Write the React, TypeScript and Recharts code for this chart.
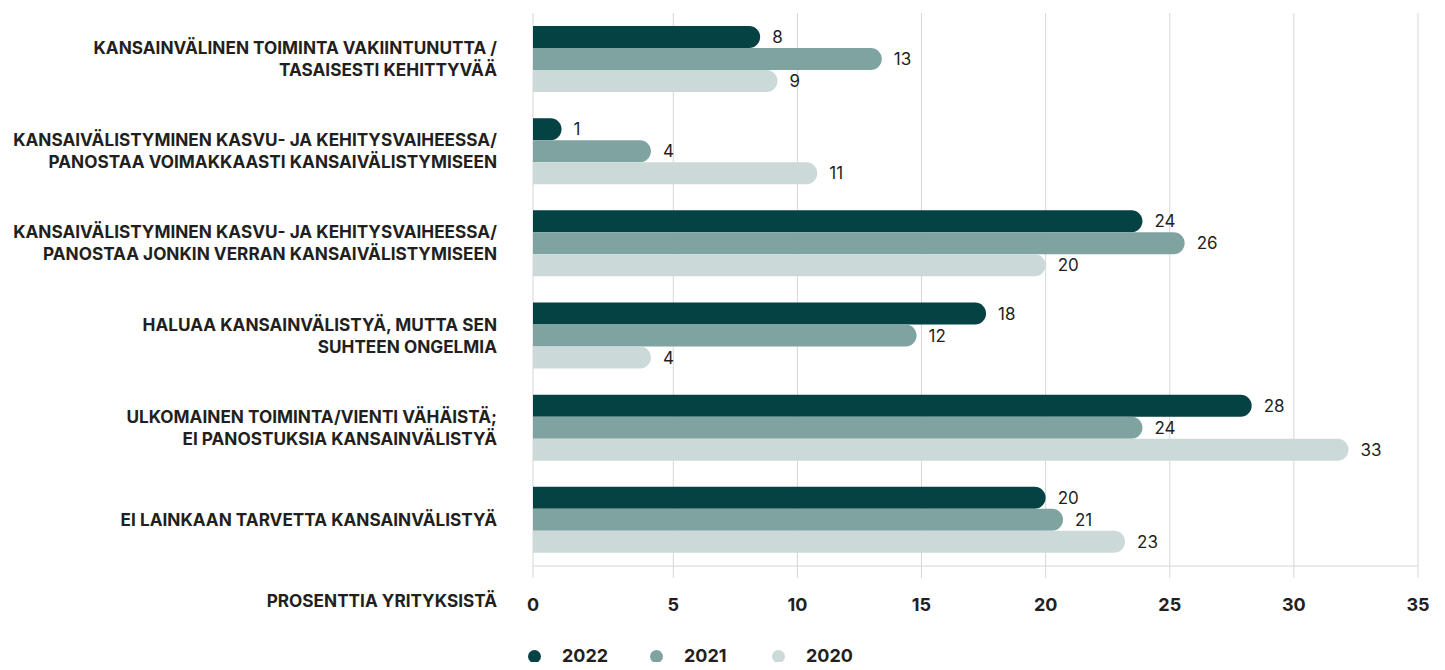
import { BarChart, Bar, XAxis, YAxis, CartesianGrid, Legend, LabelList, Label } from 'recharts'

const categories = [
  'KANSAINVÄLINEN TOIMINTA VAKIINTUNUTTA /\nTASAISESTI KEHITTYVÄÄ',
  'KANSAIVÄLISTYMINEN KASVU- JA KEHITYSVAIHEESSA/\nPANOSTAA VOIMAKKAASTI KANSAIVÄLISTYMISEEN',
  'KANSAIVÄLISTYMINEN KASVU- JA KEHITYSVAIHEESSA/\nPANOSTAA JONKIN VERRAN KANSAIVÄLISTYMISEEN',
  'HALUAA KANSAINVÄLISTYÄ, MUTTA SEN\nSUHTEEN ONGELMIA',
  'ULKOMAINEN TOIMINTA/VIENTI VÄHÄISTÄ;\nEI PANOSTUKSIA KANSAINVÄLISTYÄ',
  'EI LAINKAAN TARVETTA KANSAINVÄLISTYÄ',
]

const years = ['2022', '2021', '2020']
const colors = ['#054244', '#7fa3a1', '#cbdad9']

// bar lengths as drawn in the picture
const values2022 = [8.5, 0.5, 23.9, 17.6, 28.3, 20.0]
const values2021 = [13.4, 4.1, 25.6, 14.8, 23.9, 20.7]
const values2020 = [9.2, 10.8, 20.0, 4.1, 32.2, 23.2]

// printed numbers next to the bars
const labels2022 = [8, 1, 24, 18, 28, 20]
const labels2021 = [13, 4, 26, 12, 24, 21]
const labels2020 = [9, 11, 20, 4, 33, 23]

const xTicks = [0, 5, 10, 15, 20, 25, 30, 35]
// the axis line sits a little left of where the bars count from
const AXIS_START = -0.65

const data = categories.map((name, i) => ({
  name,
  r2022: [AXIS_START, values2022[i]],
  r2021: [AXIS_START, values2021[i]],
  r2020: [AXIS_START, values2020[i]],
  l2022: labels2022[i],
  l2021: labels2021[i],
  l2020: labels2020[i],
}))

const TEXT = '#231f20'
const GRID = '#d6d6d6'

function CategoryTick({ x, y, payload }: any) {
  const lines = String(payload.value).split('\n')
  const lh = 22
  const top = y - ((lines.length - 1) * lh) / 2
  return (
    <text x={x} y={top} textAnchor="end" fill={TEXT} fontSize={17.2} fontWeight={700}>
      {lines.map((l, i) => (
        <tspan key={i} x={x} y={top + i * lh} dy="0.35em">
          {l}
        </tspan>
      ))}
    </text>
  )
}

function YearLegend() {
  return (
    <div style={{ display: 'flex', paddingLeft: 520, paddingTop: 24, height: 36, boxSizing: 'border-box' }}>
      {years.map((y, i) => (
        <div key={y} style={{ width: 122, display: 'flex', alignItems: 'center' }}>
          <span
            style={{ width: 13, height: 13, borderRadius: '50%', background: colors[i], marginRight: 21, display: 'inline-block' }}
          />
          <span style={{ fontWeight: 700, fontSize: 18, color: TEXT, lineHeight: '20px' }}>{y}</span>
        </div>
      ))}
    </div>
  )
}

export default function App() {
  return (
    <div style={{ width: 1429, height: 654, fontFamily: 'Inter, sans-serif' }}>
      <BarChart
        width={1429}
        height={654}
        data={data}
        layout="vertical"
        margin={{ top: 5, right: 19, bottom: 0, left: 0 }}
        barGap={0}
        barSize={22}
      >
        <CartesianGrid horizontal={false} stroke={GRID} />
        <XAxis
          type="number"
          domain={[AXIS_START, 35]}
          ticks={xTicks.map((t) => (t === 0 ? AXIS_START : t))}
          tickFormatter={(v: number) => (v < 0 ? '0' : String(v))}
          height={60}
          tickSize={12}
          tickMargin={20}
          axisLine={{ stroke: GRID }}
          tickLine={{ stroke: GRID }}
          tick={{ fill: TEXT, fontSize: 18, fontWeight: 700 }}
        >
          <Label
            content={({ viewBox }: any) => (
              <text
                x={viewBox.x - 36}
                y={viewBox.y + 35}
                dy="0.35em"
                textAnchor="end"
                fill={TEXT}
                fontSize={17.2}
                fontWeight={700}
              >
                PROSENTTIA YRITYKSISTÄ
              </text>
            )}
          />
        </XAxis>
        <YAxis
          type="category"
          dataKey="name"
          width={525}
          axisLine={false}
          tickLine={false}
          tickSize={0}
          tickMargin={36}
          interval={0}
          tick={<CategoryTick />}
        />
        <Legend verticalAlign="bottom" content={<YearLegend />} wrapperStyle={{ left: 0, width: 1429, height: 36 }} />
        <Bar dataKey="r2022" name="2022" fill={colors[0]} radius={[0, 11, 11, 0]} isAnimationActive={false}>
          <LabelList dataKey="l2022" position="right" offset={12} fill={TEXT} fontSize={17} />
        </Bar>
        <Bar dataKey="r2021" name="2021" fill={colors[1]} radius={[0, 11, 11, 0]} isAnimationActive={false}>
          <LabelList dataKey="l2021" position="right" offset={12} fill={TEXT} fontSize={17} />
        </Bar>
        <Bar dataKey="r2020" name="2020" fill={colors[2]} radius={[0, 11, 11, 0]} isAnimationActive={false}>
          <LabelList dataKey="l2020" position="right" offset={12} fill={TEXT} fontSize={17} />
        </Bar>
      </BarChart>
    </div>
  )
}
